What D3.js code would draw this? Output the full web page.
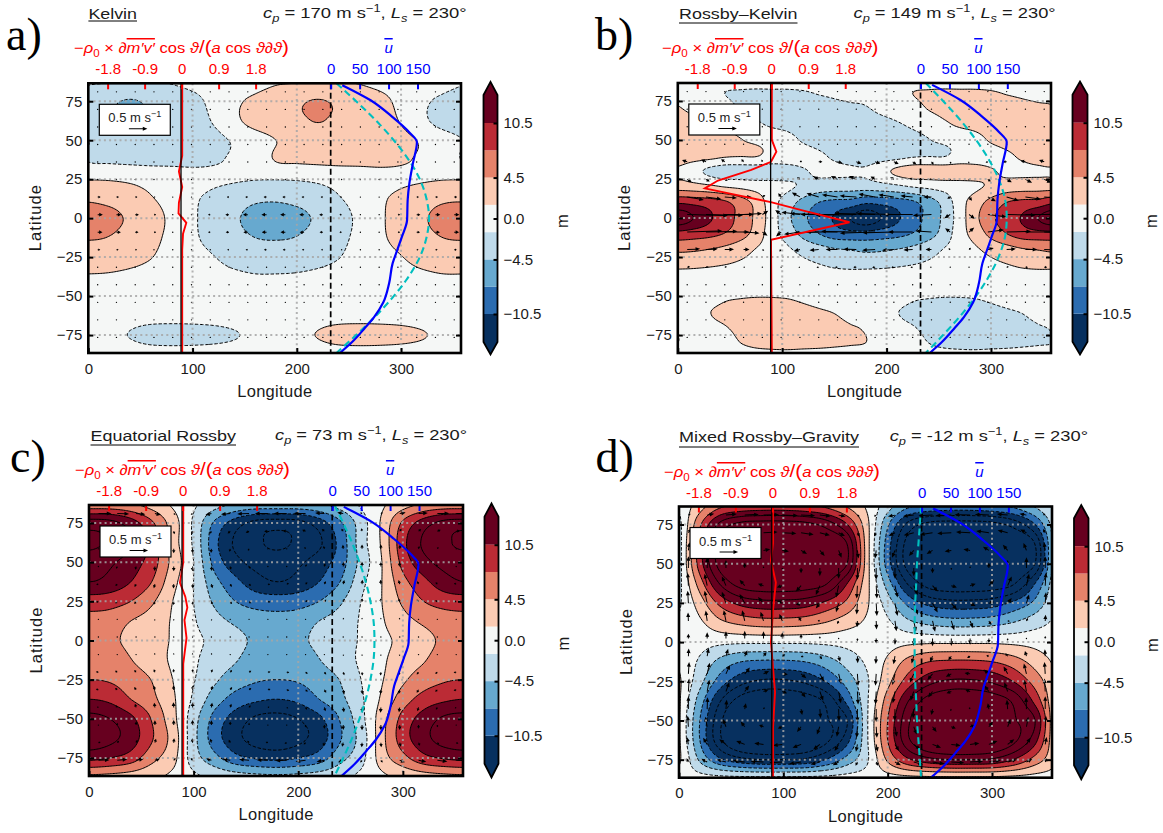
<!DOCTYPE html>
<html><head><meta charset="utf-8">
<script src="https://cdn.jsdelivr.net/npm/d3@7"></script>
<style>
html,body{margin:0;padding:0;background:#fff}
svg{display:block}
text{font-family:"Liberation Sans",Arial,sans-serif;fill:#1a1a1a}
</style></head><body>
<svg id="fig" width="1163" height="833"></svg>
<script>
// ---------- shared axis and legend values ----------
const levels=[-10.5,-7.5,-4.5,-1.5,1.5,4.5,7.5,10.5];
const lineLevels=[-16.5,-13.5,-10.5,-7.5,-4.5,-1.5,1.5,4.5,7.5,10.5,13.5,16.5];
const colors=["#07305f","#2b6cb0","#67a9cf","#bfdaea","#f5f7f6","#fbcbb3","#e5826a","#bb2b35","#67001f"];
const barTicks=[10.5,4.5,0,-4.5,-10.5];
const latTicks=[75,50,25,0,-25,-50,-75];
const lonTicks=[0,100,200,300];
const redTicks=[-1.8,-0.9,0,0.9,1.8];
const redTickLabels=["-1.8","-0.9","0","0.9","1.8"];
const blueTicks=[0,50,100,150];
const titles=["Kelvin","Rossby–Kelvin","Equatorial Rossby","Mixed Rossby–Gravity"];
const phaseSpeeds=["170","149","73","-12"];
const letters=["a)","b)","c)","d)"];

// ---------- field rows: one half wave; the other half has opposite sign ----------
const lats13=[88,75,62.5,50,37.5,25,12.5,0,-12.5,-25,-37.5,-50,-62.5,-75,-88];
const latsB=[88,80,70,60,50,40,30,20,10,0,-10,-20,-30,-40,-50,-60,-70,-80,-88];
const hKelvin=[
[-1.2,-1.3,-1.4,-1.4,-1.3,-.8,-.4,.2,.6],
[-3,-4,-4.7,-4,-3,-2.2,-.8,1,2],
[-3.5,-4,-4.6,-4,-3.2,-2.5,-1.3,.8,2.6],
[-1.5,-2.5,-3,-3.2,-3,-2.8,-2.2,-1.2,0],
[-1.7,-2,-2.2,-2.3,-2.3,-2.3,-1.8,-1.2,-.5],
[1.4,1.3,1,.5,.2,-.3,-.9,-1.2,-1.4],
[4.1,3.6,2.8,1.7,.5,-1,-2.3,-3.3,-4],
[5.8,5.4,4,2.6,.9,-1.1,-2.6,-4.1,-5.3],
[4.7,4.4,3.3,2.2,.8,-1,-2.4,-3.6,-4.5],
[3,2.9,2.4,1.6,.5,-.5,-1.4,-2.4,-2.9],
[1.3,1.2,.9,.5,.1,-.2,-.6,-1,-1.3],
[.3,.3,.2,.1,0,-.1,-.2,-.3,-.3],
[0,-.3,-.5,-.6,-.6,-.6,-.5,-.3,0],
[.3,-.8,-1.6,-2.3,-2.5,-2.4,-2.2,-1.7,-.9],
[0,-.2,-.3,-.4,-.4,-.4,-.3,-.2,0]];
const hRossbyKelvin=[
[.4,.2,-.2,-.6,-.8,-.9,-.9,-.9,-.8,-.7,-.6,-.5],
[.9,.3,-.6,-1.5,-1.7,-1.8,-1.8,-1.8,-1.7,-1.4,-1.2,-1],
[1.7,.9,.2,-.6,-1.6,-2.2,-2.5,-2.6,-2.6,-2.4,-2.1,-1.9],
[3,2.5,1.8,1,.2,-1,-1.9,-2.2,-2.5,-2.8,-3,-3],
[4,3.6,3,2.3,1.6,1,.4,-.6,-1.8,-2.6,-3.3,-3.8],
[3.3,3,2.6,1.9,1.7,1.7,.6,.2,-.3,-1,-2,-2.8],
[1.1,-.5,-2.1,-3,-3.1,-3.1,-3,-2.6,-1.8,-1,-1,-1.1],
[3.2,2.8,2.2,1.4,.9,.3,-.3,-1,-2,-2.8,-3.1,-3.2],
[10,9.6,9,8,6,3.5,-.2,-3,-5.5,-7.5,-8.3,-8.6],
[15.5,13.5,11,8.8,6.6,3.8,0,-3.7,-6.8,-9,-10.8,-13.5],
[9.5,9,8.4,7.4,5.8,3.3,-.2,-2.7,-5.4,-7.5,-9,-9.5],
[5.2,5,4.5,3.8,2.7,1.4,.2,-1.1,-2.4,-3.4,-4.3,-4.7],
[2.1,2,1.8,1.5,1.1,.7,.2,-.3,-.9,-1.4,-1.9,-2.1],
[.4,.4,.3,.2,.1,0,0,0,-.1,-.2,-.3,-.4],
[-.2,-.1,.4,1.1,1.3,1.4,1.4,1.3,1,.6,.2,-.2],
[-.8,.2,1.4,2,2.3,2.4,2.3,2.3,2,1.7,1.4,.9],
[-1.3,-.2,.8,1.4,1.9,2.4,2.6,2.6,2.5,2.2,1.9,1.6],
[-1.5,-.8,0,.8,1.5,2,2.2,2.3,2.2,2.1,1.9,1.7],
[-.5,-.2,.1,.3,.6,.8,.9,.9,.8,.7,.6,.5]];
const hEqRossby=[
[5,5,4.5,3,1,-1,-3,-4.5,-5],
[15,14.5,12,8,3,-2,-8,-12,-14.5],
[17,16,14,9.5,3,-2,-9.5,-14,-16],
[15,14,12,9,3.5,-1.5,-8.5,-12.5,-14.5],
[13.5,12.5,10.5,7.5,2.5,-1.5,-6.5,-9.7,-12.3],
[9,8.8,7.5,5,1.5,-1.5,-5,-7.5,-8.8],
[6.5,6,4.5,3.2,1.2,-1.2,-3.5,-5,-6],
[5.5,5,3.9,2.7,1.2,-.8,-2.2,-3.7,-5],
[6.5,6.2,4.6,3,1,-1,-3,-4.3,-6],
[7.5,7.2,6,4.4,1.5,-1.3,-4,-6,-7.2],
[10.5,9.8,7.5,5.3,2,-2,-6,-8.7,-10],
[14.5,13.5,11.2,7.3,2.5,-3.2,-8.5,-11.8,-14],
[15.5,14.3,12,7.8,3.3,-3.5,-9,-12.5,-14.8],
[11.3,10.5,9,5.5,2.5,-3,-6.5,-9.5,-10.8],
[3.5,3.3,2.8,2,.8,-.8,-2,-2.8,-3.3]];
const hMixedRG=[
[-1,3,6.5,7.5,8,8,7.5,6.5,4],
[-2.5,7,14.5,17.5,18,18,17.5,15.5,11],
[-3,9,18,21.5,22,22,21.5,20,17],
[-3,9,18,21,22,22,21,20,17],
[-2.5,6,14,18,19,19,18.5,17,11],
[-2,3,8.5,11.5,12.5,12.5,12,10,7],
[-1,1,3.8,5.3,6,6,5.6,4.5,2.8],
[0,-.4,-.8,-1,-1,-1,-1,-.8,-.5],
[1,-2,-5.5,-7.5,-8,-8,-7.5,-6,-3.5],
[2,-3.5,-9,-12.5,-14,-14,-13,-10.5,-6.5],
[2,-6,-13.5,-18,-19.5,-19.5,-18.5,-16,-10],
[2,-7.5,-16,-21,-22,-22,-21,-17,-14],
[2,-7.5,-16,-21,-22.5,-22.5,-21,-17.5,-12],
[2,-5,-10,-12.5,-13.5,-13.5,-13,-10.5,-6.5],
[0,0,0,0,0,0,0,0,0]];

// ---------- wind arrows, in hundredths of m/s; one half wave ----------
const arrowLats=[81,69.75,58.5,47.25,36,24.75,13.5,2.25,-9,-20.25,-31.5,-42.75,-54,-65.25,-76.5];
const arrowLons=[9,27,45,63,81,99,117,135,153,171];
const uKelvin=[
[1,1,1,0,0,0,0,-1,-1,-1],[1,1,1,0,0,0,0,-1,-1,-1],[1,1,1,0,0,0,0,-1,-1,-1],[1,1,1,0,0,0,0,-1,-1,-1],
[2,2,1,1,0,0,-1,-1,-2,-2],[3,3,2,1,0,0,-1,-2,-3,-3],[8,7,6,4,1,-1,-4,-6,-7,-8],[14,13,10,6,2,-2,-6,-10,-13,-14],
[13,12,9,6,2,-2,-6,-9,-12,-13],[7,6,5,3,1,-1,-3,-5,-6,-7],[3,3,2,1,0,0,-1,-2,-3,-3],
[1,1,1,0,0,0,0,-1,-1,-1],[1,1,1,0,0,0,0,-1,-1,-1],[1,1,1,0,0,0,0,-1,-1,-1],[1,1,1,0,0,0,0,-1,-1,-1]];
const vKelvin=[
[0,0,0,1,1,1,1,0,0,0],[0,0,0,1,1,1,1,0,0,0],[0,0,0,1,1,1,1,0,0,0],[0,0,0,1,1,1,1,0,0,0],
[0,0,0,0,0,0,0,0,0,0],[0,0,0,0,0,0,0,0,0,0],[0,0,0,0,0,0,0,0,0,0],[0,0,0,0,0,0,0,0,0,0],
[0,0,0,0,0,0,0,0,0,0],[0,0,0,0,0,0,0,0,0,0],[0,0,0,0,0,0,0,0,0,0],
[0,0,0,1,1,1,1,0,0,0],[0,0,0,1,1,1,1,0,0,0],[0,0,0,1,1,1,1,0,0,0],[0,0,0,1,1,1,1,0,0,0]];
const uRossbyKelvin=[
[2,2,1,1,0,0,-1,-1,-2,-2],[2,2,1,1,0,0,-1,-1,-2,-2],[2,2,1,1,0,0,-1,-1,-2,-2],[3,3,2,1,1,-1,-1,-2,-3,-3],
[-14,-13,-10,-6,-2,2,6,10,13,14],[12,10,8,5,2,-2,-8,-14,-18,-20],[45,42,33,22,8,-8,-22,-33,-42,-45],
[110,100,78,50,16,-16,-50,-78,-100,-110],[95,85,66,43,14,-14,-43,-66,-85,-95],[35,32,25,16,5,-5,-16,-25,-32,-35],
[8,7,6,4,1,-1,-4,-6,-7,-8],[2,2,1,1,0,0,-1,-1,-2,-2],[2,2,1,1,0,0,-1,-1,-2,-2],[2,2,1,1,0,0,-1,-1,-2,-2],[2,2,1,1,0,0,-1,-1,-2,-2]];
const vRossbyKelvin=[
[0,0,0,0,0,0,0,0,0,0],[0,0,0,0,0,0,0,0,0,0],[0,0,0,0,0,0,0,0,0,0],[1,1,1,1,1,0,0,-1,-1,-1],
[5,6,7,7,6,4,2,0,-3,-5],[-8,-6,-4,-2,0,3,6,8,9,9],[-8,-6,-3,0,5,10,12,10,6,3],[-3,-2,0,3,10,12,6,2,0,-2],
[3,2,0,-3,-10,-12,-6,-2,0,2],[2,2,1,0,-3,-5,-4,-2,0,1],[1,1,1,0,0,-1,-1,-1,0,0],
[0,0,0,0,0,0,0,0,0,0],[0,0,0,0,0,0,0,0,0,0],[0,0,0,0,0,0,0,0,0,0],[0,0,0,0,0,0,0,0,0,0]];
const uEqRossby=[
[35,32,25,16,5,-5,-16,-25,-32,-35],[10,9,7,5,2,-2,-5,-7,-9,-10],[3,3,2,1,0,0,-1,-2,-3,-3],[-3,-3,-2,-1,0,0,1,2,3,3],
[-6,-5,-4,-3,-1,1,3,4,5,6],[-7,-6,-5,-3,-1,1,3,5,6,7],[-3,-3,-2,-1,0,0,1,2,3,3],[2,2,1,1,0,0,-1,-1,-2,-2],
[-3,-3,-2,-1,0,0,1,2,3,3],[-7,-6,-5,-3,-1,1,3,5,6,7],[-7,-6,-5,-3,-1,1,3,5,6,7],[-4,-4,-3,-2,-1,1,2,3,4,4],
[0,0,0,0,0,0,0,0,0,0],[6,5,4,3,1,-1,-3,-4,-5,-6],[30,27,21,14,5,-5,-14,-21,-27,-30]];
const vEqRossby=[
[0,-1,-2,-3,-3,-3,-3,-2,-1,0],[-1,-4,-6,-7,-8,-8,-7,-6,-4,-1],[-2,-5,-8,-11,-12,-12,-11,-8,-5,-2],[-2,-6,-9,-12,-13,-13,-12,-9,-6,-2],
[-2,-5,-8,-11,-12,-12,-11,-8,-5,-2],[-1,-4,-6,-8,-9,-9,-8,-6,-4,-1],[-1,-2,-3,-4,-4,-4,-4,-3,-2,-1],[0,0,0,0,0,0,0,0,0,0],
[1,2,3,4,4,4,4,3,2,1],[1,4,6,8,9,9,8,6,4,1],[2,5,8,11,12,12,11,8,5,2],[2,6,10,13,14,14,13,10,6,2],
[2,6,10,13,14,14,13,10,6,2],[2,5,8,11,12,12,11,8,5,2],[1,3,4,5,6,6,5,4,3,1]];
const uMixedRG=[
[6,19,29,38,42,42,38,29,19,6],[6,17,27,34,38,38,34,27,17,6],[3,8,13,16,18,18,16,13,8,3],[0,0,0,0,0,0,0,0,0,0],
[-2,-7,-11,-14,-15,-15,-14,-11,-7,-2],[-2,-7,-11,-14,-15,-15,-14,-11,-7,-2],[-1,-4,-6,-7,-8,-8,-7,-6,-4,-1],[0,0,0,0,0,0,0,0,0,0],
[1,4,6,7,8,8,7,6,4,1],[2,7,11,14,15,15,14,11,7,2],[2,6,9,12,13,13,12,9,6,2],[0,1,2,3,3,3,3,2,1,0],
[-2,-5,-8,-11,-12,-12,-11,-8,-5,-2],[-4,-11,-18,-23,-25,-25,-23,-18,-11,-4],[-5,-16,-25,-32,-35,-35,-32,-25,-16,-5]];
const vMixedRG=[
[4,4,3,2,1,-1,-2,-3,-4,-4],[10,9,7,5,2,-2,-5,-7,-9,-10],[22,20,15,10,3,-3,-10,-15,-20,-22],[32,29,22,14,5,-5,-14,-22,-29,-32],
[35,32,25,16,5,-5,-16,-25,-32,-35],[34,34,31,25,17,7,-4,-14,-24,-30],[23,28,29,29,25,19,11,1,-8,-17],[13,17,20,21,20,17,12,6,-1,-7],
[21,22,20,16,11,5,-2,-8,-14,-19],[32,30,24,17,8,-2,-12,-20,-28,-32],[35,32,25,16,5,-5,-16,-25,-32,-35],[35,32,25,16,5,-5,-16,-25,-32,-35],
[30,27,21,14,5,-5,-14,-21,-27,-30],[20,18,14,9,3,-3,-9,-14,-18,-20],[10,9,7,5,2,-2,-5,-7,-9,-10]];

// ---------- zonal-mean profiles ----------
const uBarLat=[85.3,75.6,64.8,55,48.7,35,22.4,11.5,-1.3,-12,-20.5,-29,-41.7,-54,-63.5,-70.5,-79.5,-86.5];
const uBar=[20,69,107,136,149,142,136,133,132,123,115,107,101,91,75,59,37,16];
const phaseLat=[86.5,75,60,50,40,25,10,0,-10,-25,-40,-50,-60,-75,-86.5];
const phaseKelvin=[10,44,85,109,130,154,167,170,167,154,130,109,85,44,10];
const phaseRossbyKelvin=[9,39,75,96,114,135,147,149,147,135,114,96,75,39,9];
const phaseEqRossby=[4,19,37,47,56,66,72,73,72,66,56,47,37,19,4];
const phaseMixedRG=[-1,-3,-6,-8,-9,-11,-12,-12,-12,-11,-9,-8,-6,-3,-1];
const redLatA=[86.5,50,40,30,20,10,3,-3,-10,-20,-86.5];
const redA=[0,0,0,-.08,0,-.08,-.09,.1,.02,0,0];
const redLatB=[86.5,50,42.5,36,30.8,24,19,10,5,-2.7,-14,-86.5];
const redB=[0,0,.11,-.02,-.5,-1.31,-1.63,0,.72,1.89,-.02,0];
const redLatC=[86.5,50,37,28,21,13,1.6,-15,-86.5];
const redC=[0,0,-.08,.05,.1,.03,.08,0,0];
const redLatD=[86.5,63,52,38,20,0,-32,-55,-86.5];
const redD=[0,0,-.05,.07,0,-.05,.05,0,0];

// ---------- layout ----------
const frames=[{L:88.3,R:461,T:83.3,B:353},{L:677.8,R:1051,T:83,B:353},{L:89,R:463,T:505,B:776},{L:679,R:1052,T:506.5,B:777.7}];
const bars=[{L:483.5,R:497.5},{L:1072.5,R:1087.5},{L:484.5,R:498.5},{L:1074,R:1088.5}];
const heads=[
{letterX:6,letterY:50,titleX:88.4,titleR:137,titleY:18.5,lineY:21,cpX:263,cpR:466.6,cpY:18,redX:74,redR:289,redY:53,uY:53},
{letterX:595,letterY:50,titleX:679,titleR:797.5,titleY:18.5,lineY:23,cpX:853.5,cpR:1055.7,cpY:18,redX:662,redR:878.5,redY:53,uY:53},
{letterX:10,letterY:472,titleX:90.5,titleR:236,titleY:440.5,lineY:445,cpX:275,cpR:467,cpY:440,redX:75,redR:290,redY:475,uY:475},
{letterX:595.5,letterY:472,titleX:679,titleR:859,titleY:441.5,lineY:447,cpX:889.7,cpR:1088,cpY:441,redX:664,redR:880,redY:477,uY:477}];
const panels=[
{h:hKelvin,lats:lats13,u:uKelvin,v:vKelvin,phase:phaseKelvin,redLat:redLatA,red:redA},
{h:hRossbyKelvin,lats:latsB,u:uRossbyKelvin,v:vRossbyKelvin,phase:phaseRossbyKelvin,redLat:redLatB,red:redB},
{h:hEqRossby,lats:lats13,u:uEqRossby,v:vEqRossby,phase:phaseEqRossby,redLat:redLatC,red:redC},
{h:hMixedRG,lats:lats13,u:uMixedRG,v:vMixedRG,phase:phaseMixedRG,redLat:redLatD,red:redD}];

const svg=d3.select("#fig");
const cat=(a,b,c,d,t)=>.5*((2*b)+(-a+c)*t+(2*a-5*b+4*c-d)*t*t+(-a+3*b-3*c+d)*t*t*t);

function resample(p){
  // full ring of columns from the half wave, then drawn on a fine lat/lon mesh for contouring
  const rows=p.h.map(r=>r.concat(r.map(x=>-x)));
  const nc=rows[0].length, dl=360/nc, nr=rows.length;
  const lon0=-6,dLon=1.5,lat0=88,dLat=1;
  const nx=Math.round(372/dLon)+1, ny=Math.round(176/dLat)+1;
  const vals=new Float64Array(nx*ny);
  for(let j=0;j<ny;j++){
    const lat=lat0-j*dLat;
    let i=0; while(i<nr-2 && lat<p.lats[i+1]) i++;
    const t=(p.lats[i]-lat)/(p.lats[i]-p.lats[i+1]);
    const rr=k=>rows[Math.max(0,Math.min(nr-1,k))];
    for(let q=0;q<nx;q++){
      const lon=lon0+q*dLon, f=((lon/dl)%nc+nc)%nc, c=Math.floor(f), s=f-c;
      const col=row=>cat(row[(c-1+nc)%nc],row[c],row[(c+1)%nc],row[(c+2)%nc],s);
      vals[j*nx+q]=cat(col(rr(i-1)),col(rr(i)),col(rr(i+1)),col(rr(i+2)),t);
    }
  }
  return {vals,nx,ny,lon0,dLon,lat0,dLat};
}

function arrowPath(x,y,dx,dy){
  const L=Math.hypot(dx,dy);
  if(L<1.4){return `M${x-.7},${y}a.7,.7 0 1,0 1.4,0a.7,.7 0 1,0 -1.4,0Z`;}
  const ux=dx/L,uy=dy/L,nx=-uy,ny=ux;
  const hl=Math.min(4.6,L*.7),hw=Math.min(2,.4+L*.3),sw=.5;
  const bx=x+dx-ux*hl,by=y+dy-uy*hl;
  const P=[[x+nx*sw,y+ny*sw],[bx+nx*sw,by+ny*sw],[bx+nx*hw,by+ny*hw],[x+dx,y+dy],[bx-nx*hw,by-ny*hw],[bx-nx*sw,by-ny*sw],[x-nx*sw,y-ny*sw]];
  return "M"+P.map(a=>a[0].toFixed(2)+","+a[1].toFixed(2)).join("L")+"Z";
}

function mathText(g,x,y,width,size,color,toks,anchor){
  const t=g.append("text").attr("x",x).attr("y",y).attr("font-size",size).style("fill",color);
  if(width) t.attr("textLength",width).attr("lengthAdjust","spacingAndGlyphs");
  if(anchor) t.attr("text-anchor",anchor);
  let shift=0;
  toks.forEach(k=>{
    const s=t.append("tspan").text(k.t);
    if(k.i) s.attr("font-style","italic");
    if(k.o) s.style("text-decoration","overline");
    if(k.big) s.attr("font-size",size*k.big);
    let target=0, fs=size;
    if(k.sub){target=size*.28;fs=size*.7;s.attr("font-size",fs);}
    if(k.sup){target=-size*.38;fs=size*.7;s.attr("font-size",fs);}
    s.attr("dy",target-shift); shift=target;
  });
  return t;
}

panels.forEach((p,ip)=>{
  const F=frames[ip],H=heads[ip],Bz=bars[ip];
  const g=svg.append("g");
  const x=d3.scaleLinear().domain([0,357.5]).range([F.L,F.R]);
  const y=d3.scaleLinear().domain([86.5,-86.5]).range([F.T,F.B]);
  const clipId="clip"+ip;
  g.append("clipPath").attr("id",clipId).append("rect").attr("x",F.L).attr("y",F.T).attr("width",F.R-F.L).attr("height",F.B-F.T);
  const plot=g.append("g").attr("clip-path",`url(#${clipId})`);

  // filled contours and contour lines
  const m=resample(p);
  const gen=d3.contours().size([m.nx,m.ny]).smooth(true);
  const tr=d3.geoTransform({point(a,b){this.stream.point(x(m.lon0+(a-.5)*m.dLon),y(m.lat0-(b-.5)*m.dLat));}});
  const path=d3.geoPath(tr);
  plot.append("rect").attr("x",F.L).attr("y",F.T).attr("width",F.R-F.L).attr("height",F.B-F.T).attr("fill",colors[0]);
  levels.forEach((lv,i)=>{
    plot.append("path").attr("d",path(gen.contour(m.vals,lv))).attr("fill",colors[i+1]);
  });
  lineLevels.forEach(lv=>{
    plot.append("path").attr("d",path(gen.contour(m.vals,lv))).attr("fill","none")
      .attr("stroke","#000").attr("stroke-width",1).attr("stroke-dasharray",lv<0?"3.4 1.8":null);
  });

  // wind arrows
  const len=d3.scaleLinear().domain([0,50]).range([0,18.5]);
  const arrows=[];
  arrowLats.forEach((la,r)=>arrowLons.forEach((lo,c)=>{
    arrows.push({lo,la,u:p.u[r][c],v:p.v[r][c]});
    arrows.push({lo:lo+180,la,u:-p.u[r][c],v:-p.v[r][c]});
  }));
  plot.append("g").selectAll("path").data(arrows).join("path")
    .attr("d",d=>arrowPath(x(d.lo),y(d.la),len(d.u),-len(d.v))).attr("fill","#000");

  // top scales
  const red=d3.scaleLinear().domain([0,1.8]).range([x(89.5),x(89.5)+74]);
  const blue=d3.scaleLinear().domain([0,150]).range([x(232.5),x(232.5)+86.8]);

  plot.append("line").attr("x1",blue(0)).attr("x2",blue(0)).attr("y1",F.T).attr("y2",F.B).attr("stroke","#000").attr("stroke-width",1.7).attr("stroke-dasharray","6 3.5");

  // dotted grid
  const gridStyle=s=>s.attr("stroke","#a6a6a6").attr("stroke-opacity",.85).attr("stroke-width",2).attr("stroke-dasharray","2 3.2");
  plot.append("g").selectAll("line").data(latTicks).join("line").attr("x1",F.L).attr("x2",F.R).attr("y1",d=>y(d)).attr("y2",d=>y(d)).call(gridStyle);
  plot.append("g").selectAll("line").data(lonTicks.slice(1)).join("line").attr("y1",F.T).attr("y2",F.B).attr("x1",d=>x(d)).attr("x2",d=>x(d)).call(gridStyle);

  // profiles
  plot.append("path").attr("d",d3.line().x((d,i)=>red(d)+.6).y((d,i)=>y(p.redLat[i]))(p.red)).attr("fill","none").attr("stroke","#ff0000").attr("stroke-width",1.9);
  plot.append("line").attr("x1",red(0)-.6).attr("x2",red(0)-.6).attr("y1",F.T).attr("y2",F.B).attr("stroke","#000").attr("stroke-width",1.3);
  plot.append("path").attr("d",d3.line().x((d,i)=>blue(d)).y((d,i)=>y(phaseLat[i])).curve(d3.curveMonotoneY)(p.phase)).attr("fill","none").attr("stroke","#00bfbf").attr("stroke-width",2.1).attr("stroke-dasharray","7 4");
  plot.append("path").attr("d",d3.line().x((d,i)=>blue(d)).y((d,i)=>y(uBarLat[i])).curve(d3.curveMonotoneY)(uBar)).attr("fill","none").attr("stroke","#0000ff").attr("stroke-width",2.2);

  // key box
  const kx=F.L+11,ky=F.T+21;
  plot.append("rect").attr("x",kx).attr("y",ky).attr("width",71).attr("height",31).attr("fill","#fff").attr("stroke","#000").attr("stroke-width",1.2);
  mathText(g,kx+35.5,ky+18,null,13,"#222",[{t:"0.5 m s"},{t:"−1",sup:1}],"middle");
  g.append("path").attr("d",arrowPath(kx+29.6,ky+24.5,len(50),0)).attr("fill","#000");

  // axes
  const axisStyle=a=>{a.select(".domain").remove();a.selectAll(".tick line").attr("stroke-width",2);a.selectAll("text").attr("font-size",15).attr("font-family","Liberation Sans, Arial, sans-serif");};
  g.append("g").attr("transform",`translate(${F.L},0)`).call(d3.axisLeft(y).tickValues(latTicks).tickSize(-5).tickPadding(6)).call(axisStyle);
  g.append("g").attr("transform",`translate(${F.R},0)`).call(d3.axisRight(y).tickValues(latTicks).tickSize(-5).tickFormat("")).call(axisStyle);
  g.append("g").attr("transform",`translate(0,${F.B})`).call(d3.axisBottom(x).tickValues(lonTicks).tickSize(-5).tickPadding(10)).call(axisStyle);
  const topRed=g.append("g").attr("transform",`translate(0,${F.T})`).call(d3.axisTop(red).tickValues(redTicks).tickSize(-6).tickPadding(9).tickFormat((d,i)=>redTickLabels[i])).call(axisStyle);
  topRed.selectAll(".tick line").attr("stroke","#ff0000");topRed.selectAll("text").style("fill","#ff0000");
  const topBlue=g.append("g").attr("transform",`translate(0,${F.T})`).call(d3.axisTop(blue).tickValues(blueTicks).tickSize(-6).tickPadding(9)).call(axisStyle);
  topBlue.selectAll(".tick line").attr("stroke","#0000ff");topBlue.selectAll("text").style("fill","#0000ff");

  // frame
  g.append("rect").attr("x",F.L).attr("y",F.T).attr("width",F.R-F.L).attr("height",F.B-F.T).attr("fill","none").attr("stroke","#000").attr("stroke-width",2.6);

  // axis titles
  g.append("text").attr("x",(F.L+F.R)/2).attr("y",F.B+44).attr("text-anchor","middle").attr("font-size",16.5).attr("textLength",75).text("Longitude");
  g.append("text").attr("transform",`translate(${F.L-47.5},${(F.T+F.B)/2}) rotate(-90)`).attr("text-anchor","middle").attr("font-size",16.5).attr("textLength",66).text("Latitude");

  // colour bar
  const by=d3.scaleLinear().domain([10.5,-10.5]).range([F.T+39.7,F.T+230.7]);
  const cg=g.append("g");
  const mid=(Bz.L+Bz.R)/2;
  const topEnd=F.T+11.7,botEnd=F.T+258.7,apexT=F.T-1.5,apexB=F.B+1.5;
  cg.append("path").attr("d",`M${Bz.L},${by(10.5)}L${Bz.L},${topEnd}L${mid},${apexT}L${Bz.R},${topEnd}L${Bz.R},${by(10.5)}Z`).attr("fill",colors[8]);
  cg.append("path").attr("d",`M${Bz.L},${by(-10.5)}L${Bz.L},${botEnd}L${mid},${apexB}L${Bz.R},${botEnd}L${Bz.R},${by(-10.5)}Z`).attr("fill",colors[0]);
  d3.pairs(levels).forEach((pr,i)=>{
    cg.append("rect").attr("x",Bz.L).attr("width",Bz.R-Bz.L).attr("y",by(pr[1])).attr("height",by(pr[0])-by(pr[1])).attr("fill",colors[i+1]);
  });
  cg.append("path").attr("d",`M${Bz.L},${topEnd}L${mid},${apexT}L${Bz.R},${topEnd}L${Bz.R},${botEnd}L${mid},${apexB}L${Bz.L},${botEnd}Z`).attr("fill","none").attr("stroke","#000").attr("stroke-width",1.8);
  g.append("g").attr("transform",`translate(${Bz.R},0)`).call(d3.axisRight(by).tickValues(barTicks).tickSize(-4).tickPadding(6).tickFormat(d3.format(".1f"))).call(axisStyle);
  g.append("text").attr("transform",`translate(${Bz.L+84},${(F.T+F.B)/2+3}) rotate(-90)`).attr("text-anchor","middle").attr("font-size",16.5).text("m");

  // headings
  g.append("text").attr("x",H.letterX).attr("y",H.letterY).attr("font-size",46).style("font-family","Liberation Serif, serif").style("fill","#000").text(letters[ip]);
  g.append("text").attr("x",H.titleX).attr("y",H.titleY).attr("font-size",15.5).attr("textLength",H.titleR-H.titleX).attr("lengthAdjust","spacingAndGlyphs").text(titles[ip]);
  g.append("line").attr("x1",H.titleX).attr("x2",H.titleR).attr("y1",H.lineY).attr("y2",H.lineY).attr("stroke","#000").attr("stroke-width",1);
  mathText(g,H.cpX,H.cpY,H.cpR-H.cpX,15.5,"#1a1a1a",[{t:"c",i:1},{t:"p",i:1,sub:1},{t:" = "+phaseSpeeds[ip]+" m s"},{t:"−1",sup:1},{t:", "},{t:"L",i:1},{t:"s",i:1,sub:1},{t:" = 230°"}]);
  mathText(g,H.redX,H.redY,H.redR-H.redX,15,"#ff0000",[{t:"−"},{t:"ρ",i:1},{t:"0",sub:1},{t:" × ∂"},{t:"m′v′",i:1,o:1},{t:" cos "},{t:"ϑ",i:1},{t:"/(",big:1.25},{t:"a",i:1},{t:" cos "},{t:"ϑ∂ϑ",i:1},{t:")",big:1.25}]);
  g.append("text").attr("x",blue(100)).attr("y",H.uY).attr("text-anchor","middle").attr("font-size",15).attr("font-style","italic").style("fill","#0000ff").style("text-decoration","overline").text("u");
});
</script>
</body></html>
